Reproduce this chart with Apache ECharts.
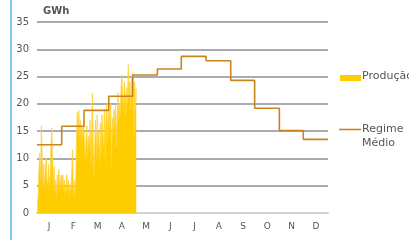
<!DOCTYPE html>
<html>
<head>
<meta charset="utf-8">
<script src="https://cdn.jsdelivr.net/npm/echarts@6/dist/echarts.min.js"></script>
<style>
  html, body { margin: 0; padding: 0; background: #fff; }
  #chart { width: 409px; height: 240px; }
</style>
</head>
<body>
<div id="chart"></div>
<script>
// meses e dias por mês
const months = ['J', 'F', 'M', 'A', 'M', 'J', 'J', 'A', 'S', 'O', 'N', 'D'];
const monthDays = [31, 28, 31, 30, 31, 30, 31, 31, 30, 31, 30, 31];

// regime médio mensal (GWh)
const regime = [12.5, 15.9, 18.8, 21.4, 25.3, 26.4, 28.7, 27.9, 24.3, 19.2, 15.1, 13.5];

// produção diária (GWh), 1 jan -> início de maio
const prodJan = [2, 3, 8, 11, 6, 16, 10, 5, 9, 4, 8, 10, 6, 5, 9, 4, 7, 12, 15.6, 9.5, 5, 8.6, 4, 6, 3, 7, 5, 8, 4, 6, 7];
const prodFeb = [5, 7, 4, 6, 3, 5, 7, 4, 6, 3, 5, 4, 7, 11.6, 5, 3, 6, 4, 13, 18.4, 15, 18.8, 14, 17, 13, 16, 14, 17];
const prodMar = [12.5, 9.7, 13.5, 16, 10, 14, 12, 17, 9, 15, 22, 11, 7, 13, 17, 10, 18, 12, 15, 9, 16.5, 11, 18, 14, 12, 19, 10, 17, 20, 13, 18];
const prodApr = [19, 15, 20, 8, 17.5, 14, 19, 16, 20, 12, 18, 22, 17, 20, 18, 23, 25.3, 21, 19, 24, 22, 18, 23, 20, 27.2, 21, 24, 19, 25, 22];
const prodMay = [25.7, 14, 24, 19, 23];

const yTicks = { min: 0, max: 35, interval: 5 };

const production = [].concat(prodJan, prodFeb, prodMar, prodApr, prodMay);
const prodData = production.map((v, i) => [i + 0.5, v]);

// degraus do regime médio no eixo de dias
const regimeData = [];
let day = 0;
regime.forEach((v, i) => {
  regimeData.push([day, v]);
  day += monthDays[i];
});
regimeData.push([day, regime[regime.length - 1]]);

const chart = echarts.init(document.getElementById('chart'), null, { renderer: 'canvas' });

const font = 'DejaVu Sans, Verdana, sans-serif';
const gridColor = '#8c9094';

const option = {
  animation: false,
  backgroundColor: '#fff',
  textStyle: { fontFamily: font },
  grid: { left: 37, right: 81, top: 22, bottom: 27 },
  xAxis: [
    {
      type: 'value',
      min: 0,
      max: day,
      axisLine: { show: false },
      axisTick: { show: false },
      axisLabel: { show: false },
      splitLine: { show: false }
    },
    {
      type: 'category',
      data: months,
      position: 'bottom',
      boundaryGap: true,
      axisLine: { show: true, onZero: false, lineStyle: { color: '#d2d2d2', width: 2 } },
      axisTick: { show: false },
      axisLabel: { color: '#555', fontSize: 9, margin: 9, fontFamily: font },
      splitLine: { show: false }
    }
  ],
  yAxis: {
    type: 'value',
    min: yTicks.min,
    max: yTicks.max,
    interval: yTicks.interval,
    axisLine: { show: false },
    axisTick: { show: false },
    axisLabel: { color: '#555', fontSize: 10, margin: 8, fontFamily: font },
    splitLine: { show: true, lineStyle: { color: gridColor, width: 1.5 } }
  },
  series: [
    {
      name: 'Produção',
      type: 'line',
      xAxisIndex: 0,
      data: prodData,
      showSymbol: false,
      lineStyle: { color: '#ffd23a', width: 0.8 },
      areaStyle: { color: '#ffcc00', opacity: 1 },
      z: 2
    },
    {
      name: 'Regime Médio',
      type: 'line',
      xAxisIndex: 0,
      data: regimeData,
      step: 'end',
      showSymbol: false,
      lineStyle: { color: '#c98420', width: 1.6 },
      z: 3
    }
  ],
  graphic: [
    // linha azul à esquerda
    { type: 'rect', shape: { x: 10, y: 0, width: 2, height: 240 }, style: { fill: '#7fc9f1' } },
    { type: 'text', left: 43, top: 6, style: { text: 'GWh', fill: '#555', font: 'bold 10px ' + font } },
    // legenda
    { type: 'rect', shape: { x: 340, y: 75, width: 21, height: 6 }, style: { fill: '#ffcc00' } },
    { type: 'text', x: 362, y: 71, style: { text: 'Produção', fill: '#555', font: '11px ' + font } },
    { type: 'line', shape: { x1: 339, y1: 129.5, x2: 361, y2: 129.5 }, style: { stroke: '#c98420', lineWidth: 1.6 } },
    { type: 'text', x: 362, y: 122, style: { text: 'Regime\nMédio', fill: '#555', font: '11px ' + font, lineHeight: 14 } }
  ]
};

chart.setOption(option);
</script>
</body>
</html>
